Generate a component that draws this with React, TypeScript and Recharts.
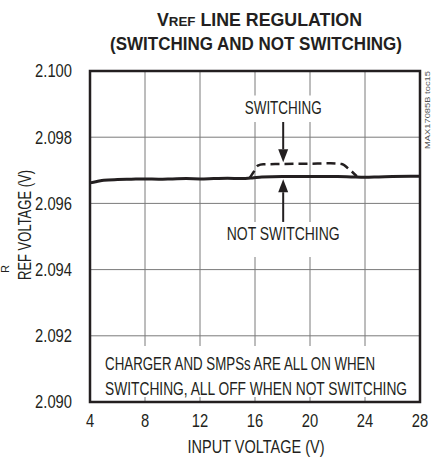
import { LineChart, Line, XAxis, YAxis, CartesianGrid, ReferenceArea, ReferenceLine } from "recharts";

const FONT = "'Liberation Sans', Arial, sans-serif";
const INK = "#231f20";

// input voltage (V) -> ref voltage (V)
const notSwitchingX = [4, 4.5, 5, 6, 7, 8, 9, 10, 11, 12, 13, 14, 15, 15.8, 16.5, 18, 20, 22, 23, 24, 25, 26, 28];
const notSwitchingY = [2.09662, 2.09666, 2.0967, 2.09672, 2.09673, 2.09674, 2.09673, 2.09674, 2.09675, 2.09674, 2.09675, 2.09676, 2.09675, 2.09677, 2.0968, 2.09681, 2.09681, 2.09681, 2.0968, 2.09679, 2.0968, 2.09681, 2.09682];

const switchingX = [15.6, 15.9, 16.2, 16.6, 18, 20, 21.5, 22.3, 22.8, 23.4];
const switchingY = [2.09676, 2.09695, 2.09714, 2.09718, 2.09719, 2.0972, 2.09721, 2.09719, 2.09705, 2.09682];

const xTicks = [4, 8, 12, 16, 20, 24, 28];
const yTicks = [2.09, 2.092, 2.094, 2.096, 2.098, 2.1];

const notSwitching = notSwitchingX.map((x, i) => ({ x, y: notSwitchingY[i] }));
const switching = switchingX.map((x, i) => ({ x, y: switchingY[i] }));

// narrow the Arial metrics to look like the condensed face of the original
const SQUEEZE = 0.82;
const NOTE_SQUEEZE = 0.75;

const XTick = (props: any) => {
  const { x, y, payload } = props;
  return (
    <text transform={`translate(${x} ${y}) scale(${SQUEEZE} 1)`} textAnchor="middle" dy="0.71em" fontFamily={FONT} fontSize={18} fill={INK}>
      {payload.value}
    </text>
  );
};

const YTick = (props: any) => {
  const { x, y, payload } = props;
  return (
    <text transform={`translate(${x} ${y}) scale(${SQUEEZE} 1)`} textAnchor="end" dy="0.355em" fontFamily={FONT} fontSize={18} fill={INK}>
      {Number(payload.value).toFixed(3)}
    </text>
  );
};

const Arrow = (props: any) => {
  const { x1, y1, x2, y2 } = props;
  const dir = y2 > y1 ? 1 : -1;
  const h = 13;
  return (
    <g>
      <line x1={x1} y1={y1} x2={x2} y2={y2 - dir * h} stroke={INK} strokeWidth={2} />
      <polygon points={`${x2},${y2} ${x2 - 5},${y2 - dir * h} ${x2 + 5},${y2 - dir * h}`} fill={INK} />
    </g>
  );
};

// lines: [text, width in px], baselines measured from the top of the box
const boxLabel = (lines: [string, number][], baselines: number[], anchor: "middle" | "start") => (props: any) => {
  const { x, y, width } = props.viewBox;
  const tx = anchor === "middle" ? x + width / 2 : x + 13;
  return (
    <g>
      {lines.map(([l, w], i) => (
        <text
          key={i}
          transform={`translate(${tx} ${y + baselines[i]}) scale(${NOTE_SQUEEZE} 1)`}
          textAnchor={anchor}
          textLength={w / NOTE_SQUEEZE}
          lengthAdjust="spacingAndGlyphs"
          fontFamily={FONT}
          fontSize={18}
          fill={INK}
        >
          {l}
        </text>
      ))}
    </g>
  );
};

export default function App() {
  return (
    <div style={{ position: "absolute", left: 0, top: 0, width: 431, height: 462, background: "#fff" }}>
      <LineChart width={431} height={462} data={notSwitching} margin={{ top: 71, right: 11, bottom: 0, left: 20 }}>
        <CartesianGrid stroke="#7a7a7a" strokeWidth={1} />
        <XAxis
          dataKey="x"
          type="number"
          domain={[4, 28]}
          ticks={xTicks}
          axisLine={false}
          tickLine={false}
          tickMargin={6}
          height={60}
          tick={<XTick />}
        />
        <YAxis
          dataKey="y"
          type="number"
          domain={[2.09, 2.1]}
          ticks={yTicks}
          axisLine={false}
          tickLine={false}
          tickMargin={12}
          width={70}
          tick={<YTick />}
        />
        <ReferenceArea x1={15.5} x2={20.6} y1={2.09846} y2={2.09926} fill="#fff" fillOpacity={1} stroke="none" label={boxLabel([["SWITCHING", 77]], [19], "middle")} />
        <ReferenceArea x1={13.6} x2={22.5} y1={2.09438} y2={2.09544} fill="#fff" fillOpacity={1} stroke="none" label={boxLabel([["NOT SWITCHING", 113]], [18], "middle")} />
        <ReferenceArea
          x1={4.15}
          x2={27.85}
          y1={2.09015}
          y2={2.09169}
          fill="#fff"
          fillOpacity={1}
          stroke="none"
          label={boxLabel(
            [
              ["CHARGER AND SMPSs ARE ALL ON WHEN", 270],
              ["SWITCHING, ALL OFF WHEN NOT SWITCHING", 302],
            ],
            [24, 49],
            "start"
          )}
        />
        <ReferenceLine segment={[{ x: 18.05, y: 2.09846 }, { x: 18.05, y: 2.09724 }]} shape={Arrow} />
        <ReferenceLine segment={[{ x: 18.05, y: 2.09544 }, { x: 18.05, y: 2.09673 }]} shape={Arrow} />
        <Line data={notSwitching} dataKey="y" type="monotone" stroke={INK} strokeWidth={3} dot={false} isAnimationActive={false} />
        <Line data={switching} dataKey="y" type="monotone" stroke={INK} strokeWidth={2.5} strokeDasharray="9 5" dot={false} isAnimationActive={false} />
        <ReferenceArea x1={4} x2={28} y1={2.09} y2={2.1} fill="none" stroke={INK} strokeWidth={2.5} />
      </LineChart>
      <svg width={431} height={462} style={{ position: "absolute", left: 0, top: 0, pointerEvents: "none" }}>
        <text x={259.5} y={26} textAnchor="middle" textLength={205} lengthAdjust="spacingAndGlyphs" fontFamily={FONT} fontWeight={700} fontSize={18} fill={INK}>
          V<tspan fontSize={13.5}>REF</tspan> LINE REGULATION
        </text>
        <text x={256} y={50} textAnchor="middle" textLength={292} lengthAdjust="spacingAndGlyphs" fontFamily={FONT} fontWeight={700} fontSize={18} fill={INK}>
          (SWITCHING AND NOT SWITCHING)
        </text>
        <text x={256} y={453} textAnchor="middle" textLength={137} lengthAdjust="spacingAndGlyphs" fontFamily={FONT} fontSize={18} fill={INK}>
          INPUT VOLTAGE (V)
        </text>
        <text x={31} y={225} transform="rotate(-90 31 225)" textAnchor="middle" textLength={110} lengthAdjust="spacingAndGlyphs" fontFamily={FONT} fontSize={18} fill={INK}>
          REF VOLTAGE (V)
        </text>
        <text x={9} y={269} transform="rotate(-90 9 269)" textAnchor="middle" fontFamily={FONT} fontSize={11} fill={INK}>
          R
        </text>
        <text x={430} y={110} transform="rotate(-90 430 110)" textAnchor="middle" textLength={78} lengthAdjust="spacingAndGlyphs" fontFamily={FONT} fontSize={8} fill="#555">
          MAX17085B toc15
        </text>
      </svg>
    </div>
  );
}
